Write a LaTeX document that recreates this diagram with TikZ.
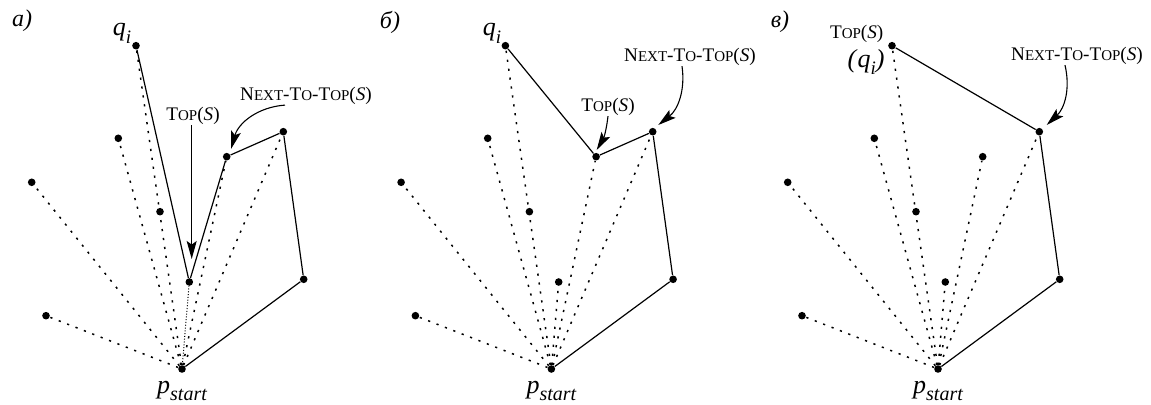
\documentclass[tikz,border=0pt]{standalone}
\usepackage{fontspec}
\setmainfont{Liberation Serif}
\usetikzlibrary{arrows.meta}
\newcommand\smc[1]{{\fontsize{7.5}{9}\selectfont #1}}
\newcommand\nexttop{N\smc{EXT}-T\smc{O}-T\smc{OP}(\textit{S})}
\newcommand\toplbl{T\smc{OP}(\textit{S})}
\newcommand\qlbl{\textit{q}\raisebox{-0.3em}{\fontsize{9.5}{9}\selectfont\itshape i}}
\newcommand\plbl{\textit{p}\raisebox{-0.3em}{\fontsize{10}{9}\selectfont\itshape start}}
\tikzset{
 dot/.style={circle,fill=black,inner sep=0pt,minimum size=3.8pt},
 hull/.style={line width=0.6pt},
 dots/.style={line width=0.75pt,dash pattern=on 1.1pt off 3.4pt},
 fine/.style={line width=0.5pt,dash pattern=on 0.5pt off 0.9pt},
 arr/.style={line width=0.55pt,-{Stealth[length=9pt,width=5pt,inset=1.8pt]}},
 lbl/.style={inner sep=0pt,font=\fontsize{9.6}{12}\selectfont},
 big/.style={inner sep=0pt,font=\fontsize{13}{15}\selectfont},
 tag/.style={inner sep=0pt,font=\fontsize{12}{14}\selectfont\itshape},
}
\newcommand\pts[1]{%
 \node[dot] (#10) at (182,369) {};
 \node[dot] (#11) at (46,315.7) {};
 \node[dot] (#12) at (31.7,182.3) {};
 \node[dot] (#13) at (118.3,138.3) {};
 \node[dot] (#14) at (136,45.7) {};
 \node[dot] (#15) at (160,211.7) {};
 \node[dot] (#16) at (189.3,282) {};
 \node[dot] (#17) at (226.7,156.7) {};
 \node[dot] (#18) at (283.3,131.7) {};
 \node[dot] (#19) at (303.7,279.3) {};
 \node[big] (#1p) at (182,391) {\plbl};
}
\begin{document}
\begin{tikzpicture}[x=0.5pt,y=-0.5pt]
\useasboundingbox (0,0) rectangle (1151,405);
% panel a
\begin{scope}
 \pts{a}
 \draw[hull] (a0)--(a9)--(a8)--(a7)--(a6)--(a4);
 \foreach \k in {1,2,3,4,7,8} \draw[dots] (a0)--(a\k);
 \draw[fine] (a0)--(a6);
 \node[tag] (alab) at (22,21) {a)};
 \node[big] (aq) at (122,33) {\qlbl};
 \node[lbl] (atop) at (193,116) {\toplbl};
 \coordinate (atip) at (191.7,259);
 \draw[arr] (atop.south -| atip) -- (atip);
 \node[lbl] (anext) at (306,96) {\nexttop};
 \coordinate (antip) at (231,149);
 \draw[arr] ([xshift=-10.5pt]anext.south) to[bend right=35] (antip);
\end{scope}
% panel b
\begin{scope}[xshift=184.7pt]
 \pts{b}
 \draw[hull] (b0)--(b9)--(b8)--(b7)--(b4);
 \foreach \k in {1,2,3,4,6,7,8} \draw[dots] (b0)--(b\k);
 \node[tag] (blab) at (20.6,22) {б)};
 \node[big] (bq) at (122.6,33) {\qlbl};
 \node[lbl] (btop) at (238.6,107) {\toplbl};
 \coordinate (btip) at (227.3,150);
 \draw[arr] (btop.south) to[bend left=12] (btip);
 \node[lbl] (bnext) at (320.6,57) {\nexttop};
 \coordinate (bntip) at (288.9,125);
 \draw[arr] ([xshift=-4pt]bnext.south) to[bend left=30] (bntip);
\end{scope}
% panel c
\begin{scope}[xshift=378pt]
 \pts{c}
 \draw[hull] (c0)--(c9)--(c8)--(c4);
 \foreach \k in {1,2,3,4,6,7,8} \draw[dots] (c0)--(c\k);
 \node[tag] (clab) at (24,22) {в)};
 \node[lbl] (ctop) at (100.7,34) {\toplbl};
 \node[big] (cq) at (110,62) {\textit{(}\qlbl\textit{)}};
 \node[lbl] (cnext) at (321,56) {\nexttop};
 \coordinate (cntip) at (290.7,125);
 \draw[arr] ([xshift=-6pt]cnext.south) to[bend left=30] (cntip);
\end{scope}
\end{tikzpicture}
\end{document}
